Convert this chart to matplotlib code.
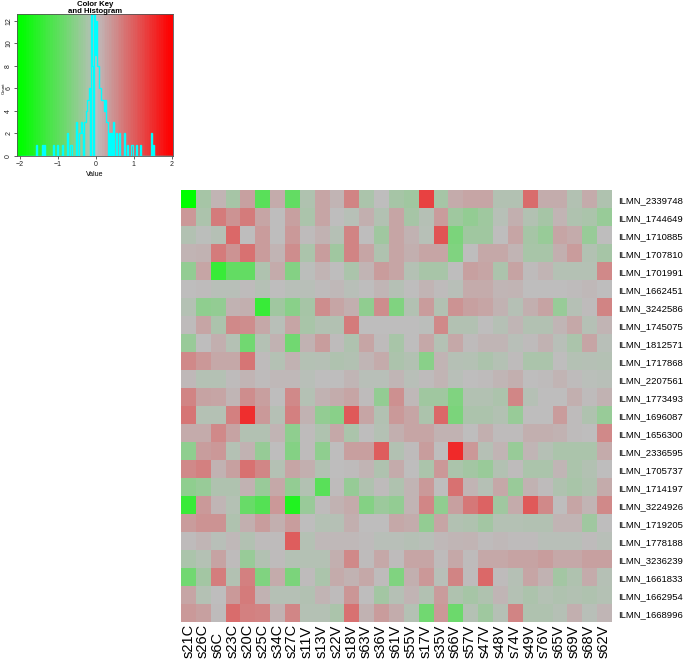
"""
heatmap.2-style expression heatmap with colour key / histogram, redrawn in matplotlib.
"""
import numpy as np
import matplotlib
matplotlib.use("Agg")
import matplotlib.pyplot as plt
from matplotlib.colors import LinearSegmentedColormap
from matplotlib.transforms import blended_transform_factory

plt.rcParams["font.family"] = ["Liberation Sans", "DejaVu Sans"]

W, H = 685, 661

genes = ["ILMN_2339748", "ILMN_1744649", "ILMN_1710885", "ILMN_1707810",
         "ILMN_1701991", "ILMN_1662451", "ILMN_3242586", "ILMN_1745075",
         "ILMN_1812571", "ILMN_1717868", "ILMN_2207561", "ILMN_1773493",
         "ILMN_1696087", "ILMN_1656300", "ILMN_2336595", "ILMN_1705737",
         "ILMN_1714197", "ILMN_3224926", "ILMN_1719205", "ILMN_1778188",
         "ILMN_3236239", "ILMN_1661833", "ILMN_1662954", "ILMN_1668996"]

samples = ["s21C", "s26C", "s6C", "s23C", "s20C", "s25C", "s34C", "s27C",
           "s11V", "s13V", "s22V", "s18V", "s63V", "s36V", "s61V", "s55V",
           "s17V", "s35V", "s66V", "s57V", "s47V", "s48V", "s74V", "s49V",
           "s76V", "s65V", "s69V", "s68V", "s62V"]

# one list per gene, in sample order
values = [
    [-2.0, -0.25, 0.1, -0.25, 0.3, -1.05, 0.2, -0.95, -0.15, 0.25, 0.1, 0.6, -0.2, 0.0, -0.25, -0.3, 1.3, -0.25, 0.2, 0.25, 0.25, -0.12, -0.12, 0.85, 0.18, 0.18, -0.12, 0.2, -0.15],
    [0.4, -0.18, 0.7, 0.45, 0.7, 0.25, 0.0, 0.3, -0.2, 0.25, 0.0, -0.07, 0.15, -0.12, 0.25, -0.25, -0.08, 0.35, -0.32, -0.45, -0.32, -0.07, 0.15, -0.12, -0.25, 0.1, -0.15, -0.2, -0.4],
    [-0.12, -0.02, -0.08, 0.9, 0.0, 0.35, 0.0, 0.38, 0.02, 0.12, -0.08, 0.6, 0.0, -0.3, 0.25, 0.12, -0.07, 1.1, -0.7, -0.3, -0.3, 0.0, 0.25, -0.25, -0.4, 0.25, 0.2, -0.4, 0.0],
    [0.1, 0.12, 0.7, 0.45, 0.8, 0.35, 0.1, 0.5, -0.2, 0.33, -0.3, 0.6, 0.25, -0.15, 0.25, 0.15, 0.25, 0.25, -0.65, 0.0, 0.22, 0.22, 0.1, -0.22, -0.22, 0.15, 0.35, -0.12, -0.25],
    [-0.45, 0.25, -1.4, -0.95, -0.95, -0.15, 0.2, -0.6, -0.02, 0.1, 0.0, -0.2, 0.1, 0.35, 0.25, -0.1, -0.22, -0.22, 0.0, 0.3, 0.25, -0.18, 0.28, 0.02, 0.1, -0.1, -0.1, -0.1, 0.55],
    [0.0, 0.02, -0.06, -0.06, 0.03, -0.08, 0.0, -0.05, -0.05, 0.02, 0.06, -0.05, 0.0, 0.08, -0.08, 0.0, 0.1, 0.02, -0.06, 0.2, 0.2, 0.08, 0.1, 0.0, 0.0, 0.0, 0.03, 0.06, 0.0],
    [-0.1, -0.5, -0.45, 0.12, 0.15, -1.4, -0.3, -0.55, -0.25, 0.5, 0.25, 0.15, -0.48, 0.5, -0.65, -0.12, 0.35, -0.12, 0.45, 0.3, 0.25, 0.12, -0.08, 0.15, 0.28, -0.4, -0.08, 0.02, 0.6],
    [0.02, 0.25, -0.18, 0.55, 0.5, 0.22, -0.06, 0.25, -0.22, -0.12, -0.12, 0.7, 0.0, 0.0, 0.0, 0.0, -0.02, 0.55, -0.12, -0.12, 0.0, -0.08, 0.08, -0.12, -0.12, 0.08, 0.22, -0.08, 0.1],
    [-0.38, 0.0, 0.15, -0.1, -0.8, -0.1, 0.12, -0.8, 0.12, 0.33, 0.02, -0.15, 0.25, 0.02, -0.22, 0.0, 0.22, -0.1, 0.22, 0.02, 0.08, 0.08, -0.06, 0.03, 0.12, -0.06, -0.2, 0.25, -0.06],
    [0.55, 0.4, 0.22, 0.22, 0.75, 0.02, -0.1, 0.12, -0.1, -0.08, -0.15, -0.12, 0.08, 0.2, -0.18, -0.12, -0.55, 0.1, -0.08, -0.1, -0.18, -0.1, 0.02, -0.2, -0.2, 0.0, -0.1, -0.08, -0.1],
    [0.05, -0.1, -0.1, 0.02, 0.1, 0.02, 0.06, 0.06, -0.06, 0.0, 0.0, 0.08, -0.06, -0.06, 0.08, -0.06, 0.02, 0.1, -0.06, 0.0, 0.02, 0.08, 0.15, 0.0, 0.02, 0.1, 0.02, -0.04, -0.06],
    [0.6, 0.28, 0.25, 0.08, 0.5, 0.32, 0.0, 0.55, -0.1, 0.12, 0.18, 0.25, 0.02, -0.45, 0.48, 0.05, -0.3, -0.3, -0.65, -0.12, -0.12, -0.18, 0.58, -0.08, 0.0, 0.0, 0.15, 0.02, 0.12],
    [0.75, -0.1, -0.1, 0.65, 1.5, 0.38, -0.08, 0.65, 0.12, -0.45, -0.55, 1.05, 0.25, -0.12, 0.38, 0.25, -0.18, 0.9, -0.7, -0.18, -0.18, -0.12, -0.4, 0.0, 0.0, 0.35, 0.02, -0.15, -0.4],
    [0.2, 0.2, 0.55, 0.28, -0.12, -0.12, 0.1, -0.5, 0.02, -0.15, 0.22, -0.2, 0.0, -0.1, 0.15, 0.25, 0.25, 0.12, 0.12, 0.0, 0.15, 0.02, 0.02, 0.15, 0.15, 0.12, 0.03, 0.0, 0.55],
    [-0.5, 0.33, 0.4, -0.1, 0.12, -0.42, 0.0, -0.6, 0.02, -0.5, 0.0, 0.32, 0.32, 1.0, -0.12, 0.02, 0.33, 0.0, 1.55, 0.4, -0.08, 0.1, -0.4, 0.08, -0.08, -0.2, -0.2, -0.2, 0.2],
    [0.55, 0.65, 0.12, 0.3, 0.8, 0.58, -0.1, 0.25, 0.15, -0.12, 0.0, 0.02, 0.1, -0.15, 0.2, 0.0, -0.2, 0.4, -0.2, -0.28, -0.38, -0.12, 0.02, -0.2, -0.2, 0.08, -0.2, -0.12, 0.0],
    [-0.5, -0.4, -0.15, -0.15, 0.12, -0.38, 0.22, -0.45, -0.12, -1.05, 0.02, -0.42, -0.15, 0.02, -0.15, 0.1, 0.38, 0.0, 0.8, 0.1, -0.08, 0.22, -0.38, 0.12, 0.02, -0.15, -0.22, -0.15, 0.2],
    [-1.4, 0.38, 0.08, -0.1, -0.9, -1.1, 0.4, -1.65, -0.38, 0.02, 0.12, 0.2, -0.6, -0.35, -0.45, 0.1, 0.58, -0.48, 0.3, 0.72, 0.95, -0.3, 0.2, 1.05, 0.55, 0.0, 0.25, 0.1, 0.55],
    [0.35, 0.45, 0.45, -0.15, 0.15, 0.33, 0.15, 0.33, 0.0, -0.1, -0.08, 0.15, 0.0, 0.0, 0.22, 0.18, -0.45, 0.25, -0.12, -0.15, -0.28, -0.1, -0.1, -0.12, -0.12, 0.1, 0.1, -0.3, 0.0],
    [0.02, 0.08, -0.06, 0.05, -0.12, 0.02, 0.02, 1.0, -0.1, 0.06, 0.06, 0.05, 0.02, -0.05, -0.06, -0.08, -0.06, 0.06, 0.08, 0.1, 0.03, 0.05, 0.03, 0.02, -0.05, -0.05, -0.06, 0.02, -0.06],
    [-0.2, -0.1, 0.28, 0.02, -0.4, -0.12, 0.02, -0.1, -0.1, -0.1, 0.15, 0.55, 0.02, 0.22, 0.02, 0.25, 0.25, 0.02, 0.22, 0.02, 0.22, 0.22, 0.28, 0.28, 0.33, 0.22, 0.22, 0.3, 0.3],
    [-0.8, -0.28, 0.68, -0.12, 0.65, -0.65, 0.2, -0.7, 0.02, -0.2, 0.2, 0.12, 0.22, 0.02, -0.65, 0.15, 0.4, -0.05, 0.6, 0.02, 0.9, 0.02, -0.08, 0.25, 0.12, -0.28, -0.15, 0.2, -0.08],
    [0.25, -0.1, 0.0, 0.38, 0.7, 0.12, -0.08, -0.08, -0.12, 0.1, 0.02, 0.42, 0.0, -0.28, -0.08, 0.1, -0.12, 0.35, -0.15, -0.25, -0.15, 0.08, -0.1, -0.18, -0.1, -0.15, -0.12, -0.15, -0.1],
    [0.38, 0.3, 0.02, 0.85, 0.65, 0.62, 0.12, 0.58, -0.1, -0.1, -0.2, 0.8, 0.12, 0.35, 0.18, -0.1, -0.8, 0.4, -0.85, -0.1, -0.32, -0.08, 0.6, -0.15, -0.15, -0.08, 0.15, -0.06, 0.08],
]

# colour-key histogram (bin centre, count)
hist_x = [-1.56, -1.39, -1.34, -1.12, -0.99, -0.88, -0.77, -0.68, -0.64, -0.51,
          -0.45, -0.42, -0.38, -0.35, -0.31, -0.29, -0.26, -0.23, -0.2, -0.16,
          -0.13, -0.11, -0.08, -0.05, -0.03, -0.01, 0.02, 0.04, 0.06, 0.09,
          0.11, 0.14, 0.17, 0.19, 0.22, 0.26, 0.29, 0.32, 0.37, 0.42, 0.46,
          0.54, 0.63, 0.76, 0.85, 0.94, 0.98, 1.07, 1.2, 1.46, 1.51]
hist_n = [1, 1, 1, 1, 1, 1, 2, 1, 1, 3,
          2, 2, 3, 2, 3, 3, 4, 5, 5, 6,
          6, 7, 8, 9, 7, 9, 12, 8, 8, 6,
          6, 5, 5, 5, 4, 5, 3, 3, 2, 2, 3,
          2, 2, 2, 1, 1, 1, 1, 1, 2, 1]

cmap = LinearSegmentedColormap.from_list("greengreyred", ["#00FF00", "#BEBEBE", "#FF0000"])

fig = plt.figure(figsize=(W / 100, H / 100), dpi=100)

# ---- heatmap ----
hm = fig.add_axes([180.7 / W, 1 - 622 / H, 430 / W, 432 / H])
Z = np.array(values)
hm.imshow(Z, cmap=cmap, vmin=-2, vmax=2, aspect="auto", interpolation="nearest")
hm.set_xticks([])
hm.set_yticks([])
for s in hm.spines.values():
    s.set_visible(False)

tr_rows = blended_transform_factory(fig.transFigure, hm.transData)
for i, g in enumerate(genes):
    hm.text(618 / W, i + 0.1, g, transform=tr_rows, ha="left", va="center",
            fontsize=6.8, clip_on=False)

tr_cols = blended_transform_factory(hm.transData, fig.transFigure)
for j, s in enumerate(samples):
    hm.text(j, 1 - 658 / H, s, transform=tr_cols, rotation=90, ha="center",
            va="bottom", fontsize=10.5, clip_on=False)

# ---- colour key with histogram ----
key = fig.add_axes([17 / W, 1 - 156 / H, 156 / W, 142 / H])
xmin, xmax, ytop = -2.08, 2.03, 12.6
grad = np.linspace(xmin, xmax, 90)[None, :]
key.imshow(grad, cmap=cmap, vmin=-2, vmax=2, aspect="auto",
           extent=[xmin, xmax, 0, ytop], interpolation="nearest")

edges = np.linspace(-2, 2, 151)
counts = np.zeros(len(edges) - 1)
np.add.at(counts, np.clip(np.digitize(hist_x, edges) - 1, 0, len(counts) - 1), hist_n)
key.stairs(counts, edges, color="cyan", lw=1)

key.set_xlim(xmin, xmax)
key.set_ylim(0, ytop)
key.set_xticks([-2, -1, 0, 1, 2])
key.set_yticks(range(0, 13, 2))
key.tick_params(labelsize=5, length=2, width=0.5, pad=1.5, colors="#222222")
for lab in key.get_yticklabels():
    lab.set_rotation(90)
    lab.set_va("center")
for s in key.spines.values():
    s.set_linewidth(0.6)
    s.set_color("#555555")
key.set_xlabel("Value", fontsize=5, labelpad=2)

# small "Count" label and two-line title placed like the R layout
fig.text(3.5 / W, 1 - 88 / H, "Count", rotation=90, ha="center", va="center",
         fontsize=3.2)
fig.text(95 / W, 1 - 8 / H, "Color Key\nand Histogram", ha="center", va="center",
         fontsize=5.6, fontweight="bold", linespacing=1.0)

fig.savefig("out.png", dpi=100)
